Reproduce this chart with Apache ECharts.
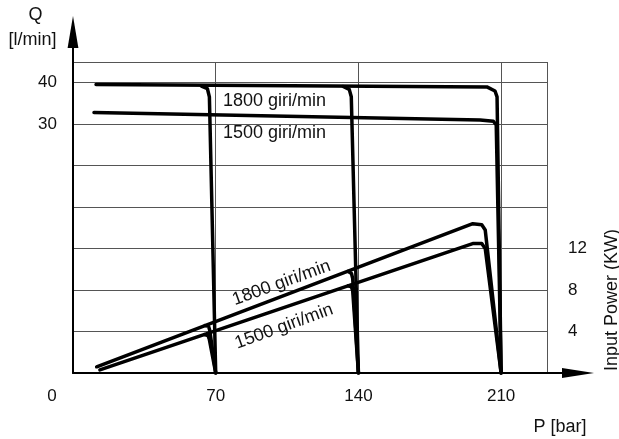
<!DOCTYPE html>
<html>
<head>
<meta charset="utf-8">
<script src="https://cdn.jsdelivr.net/npm/echarts@6/dist/echarts.min.js"></script>
<style>
html,body{margin:0;padding:0;background:#fff;}
#chart{width:619px;height:439px;}
</style>
</head>
<body>
<div id="chart"></div>
<script>
// ---- data ----
const pressureTicks = [0, 70, 140, 210];        // P [bar]
const flowTickLabels = [30, 40];                 // Q [l/min] labels shown
const powerTickLabels = [4, 8, 12];              // Input Power (KW) labels shown
const Q_FLOOR = -30;                             // bottom of the Q scale (x axis)

// Flow curves [P, Q]
const flow1800 = [[11.3, 39.6], [203, 39.0], [207, 38.0], [208, 36.6], [210, Q_FLOOR]];
const flow1800Cut70 = [[63, 39.2], [65.9, 38.6], [66.9, 36.6], [70, Q_FLOOR]];
const flow1800Cut140 = [[132.5, 39.1], [135.5, 38.4], [136.5, 36.6], [140, Q_FLOOR]];
const flow1500 = [[10.3, 32.8], [199.7, 31.0], [206.2, 30.7], [207.6, 29.8], [210, Q_FLOOR]];

// Power curves [P, KW]
const power1800 = [[11.6, 0.6], [196.1, 14.4], [200.5, 14.3], [202.2, 13.8], [210, 0]];
const power1800Cut70 = [[64.8, 4.57], [66.5, 4.5], [67.1, 4.1], [70, 0]];
const power1800Cut140 = [[135, 9.8], [136.6, 9.6], [137.2, 9.1], [140, 0]];
const power1500 = [[13.2, 0.3], [196.4, 12.5], [200.5, 12.5], [202.2, 12.0], [210, 0]];
const power1500Cut70 = [[64.5, 3.7], [66.2, 3.6], [66.8, 3.3], [70, 0]];
const power1500Cut140 = [[135, 8.4], [136.6, 8.3], [137.2, 7.9], [140, 0]];

const curveLabels = ['1800 giri/min', '1500 giri/min'];

// ---- chart ----
const FONT = "'Liberation Sans', Arial, Helvetica, sans-serif";
const TXT = '#111';
const GRID = '#555';
const chart = echarts.init(document.getElementById('chart'), null, {renderer: 'canvas'});

function curve(name, data, yIndex) {
  return {
    name: name, type: 'line', data: data, yAxisIndex: yIndex,
    symbol: 'none', silent: true, animation: false,
    lineStyle: {color: '#000', width: 3.5, join: 'round', cap: 'round'},
    z: 5
  };
}

const option = {
  backgroundColor: '#fff',
  animation: false,
  grid: {left: 73, right: 72, top: 62, bottom: 66, containLabel: false},
  xAxis: {
    type: 'value', min: 0, max: 232.5, interval: 70,
    axisLine: {show: true, onZero: false, lineStyle: {color: '#000', width: 2}},
    axisTick: {show: false},
    splitLine: {show: true, lineStyle: {color: GRID, width: 1}},
    axisLabel: {
      margin: 15, color: TXT, fontSize: 17, fontFamily: FONT,
      formatter: v => v === 0 ? '{z|0}' : (pressureTicks.includes(v) ? String(v) : ''),
      rich: {z: {fontSize: 17, fontFamily: FONT, color: TXT, padding: [0, 42, 0, 0]}}
    }
  },
  yAxis: [
    {
      type: 'value', position: 'left', min: Q_FLOOR, max: 45, interval: 10,
      axisLine: {show: true, onZero: false, lineStyle: {color: '#000', width: 2}},
      axisTick: {show: false},
      splitLine: {show: false},
      axisLabel: {
        margin: 16, color: TXT, fontSize: 17, fontFamily: FONT,
        formatter: v => flowTickLabels.includes(v) ? String(v) : ''
      }
    },
    {
      type: 'value', position: 'right', min: 0, max: 30, interval: 4,
      axisLine: {show: false, onZero: false},
      axisTick: {show: false},
      splitLine: {show: true, lineStyle: {color: GRID, width: 1}},
      axisLabel: {
        margin: 21, color: TXT, fontSize: 17, fontFamily: FONT,
        formatter: v => powerTickLabels.includes(v) ? String(v) : ''
      }
    }
  ],
  series: [
    curve('Q 1800', flow1800, 0),
    curve('Q 1800 (70)', flow1800Cut70, 0),
    curve('Q 1800 (140)', flow1800Cut140, 0),
    curve('Q 1500', flow1500, 0),
    curve('KW 1800', power1800, 1),
    curve('KW 1800 (70)', power1800Cut70, 1),
    curve('KW 1800 (140)', power1800Cut140, 1),
    curve('KW 1500', power1500, 1),
    curve('KW 1500 (70)', power1500Cut70, 1),
    curve('KW 1500 (140)', power1500Cut140, 1)
  ],
  graphic: [
    // axis arrows
    {type: 'line', shape: {x1: 547, y1: 373, x2: 566, y2: 373}, style: {stroke: '#000', lineWidth: 2}, z: 10},
    {type: 'polygon', shape: {points: [[562, 368], [594, 373], [562, 378]]}, style: {fill: '#000'}, z: 10},
    {type: 'line', shape: {x1: 73, y1: 63, x2: 73, y2: 44}, style: {stroke: '#000', lineWidth: 2}, z: 10},
    {type: 'polygon', shape: {points: [[67.6, 48], [73, 16], [78.4, 48]]}, style: {fill: '#000'}, z: 10},
    // axis names
    {type: 'text', x: 35.5, y: 15, style: {text: 'Q', font: '18px ' + FONT, fill: TXT, align: 'center', verticalAlign: 'middle'}},
    {type: 'text', x: 32.5, y: 40, style: {text: '[l/min]', font: '18px ' + FONT, fill: TXT, align: 'center', verticalAlign: 'middle'}},
    {type: 'text', x: 560, y: 427, style: {text: 'P [bar]', font: '18px ' + FONT, fill: TXT, align: 'center', verticalAlign: 'middle'}},
    {type: 'text', x: 612, y: 300, rotation: Math.PI / 2, style: {text: 'Input Power (KW)', font: '18px ' + FONT, fill: TXT, align: 'center', verticalAlign: 'middle'}},
    // curve labels
    {type: 'text', x: 223, y: 101, z: 6, style: {text: curveLabels[0], font: '18px ' + FONT, fill: TXT, align: 'left', verticalAlign: 'middle'}},
    {type: 'text', x: 223, y: 133, z: 6, style: {text: curveLabels[1], font: '18px ' + FONT, fill: TXT, align: 'left', verticalAlign: 'middle'}},
    {type: 'text', x: 281.5, y: 283, rotation: 20 * Math.PI / 180, z: 6, style: {text: curveLabels[0], font: '18px ' + FONT, fill: TXT, align: 'center', verticalAlign: 'middle'}},
    {type: 'text', x: 284, y: 326.5, rotation: 20 * Math.PI / 180, z: 6, style: {text: curveLabels[1], font: '18px ' + FONT, fill: TXT, align: 'center', verticalAlign: 'middle'}}
  ]
};
chart.setOption(option);
</script>
</body>
</html>
